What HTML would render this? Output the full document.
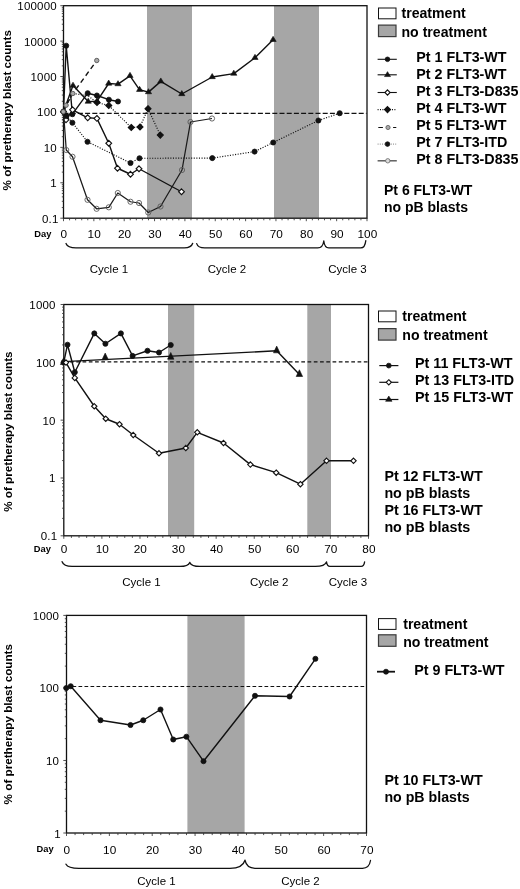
<!DOCTYPE html>
<html lang="en"><head><meta charset="utf-8"><title>Blast counts</title>
<style>html,body{margin:0;padding:0;background:#fff}svg{display:block}text{font-family:'Liberation Sans', sans-serif;fill:#000}</style>
</head><body>
<svg width="520" height="889" viewBox="0 0 520 889">
<rect width="520" height="889" fill="#fff"/>
<g style="mix-blend-mode:multiply">
<rect x="147" y="5.7" width="45" height="212.5" fill="#a6a6a6"/>
<rect x="274" y="5.7" width="45" height="212.5" fill="#a6a6a6"/>
<line x1="63.5" y1="113.3" x2="366.5" y2="113.3" stroke="#111" stroke-width="1.25" stroke-dasharray="5 2.2"/>
<rect x="63.5" y="5.7" width="303.5" height="212.5" fill="none" stroke="#111" stroke-width="1.3"/>
<path d="M60.3 5.7H63.5M61.8 30.46H63.5M61.8 24.22H63.5M61.8 19.79H63.5M61.8 16.36H63.5M61.8 13.56H63.5M61.8 11.19H63.5M61.8 9.13H63.5M61.8 7.32H63.5M60.3 41.12H63.5M61.8 65.87H63.5M61.8 59.64H63.5M61.8 55.21H63.5M61.8 51.78H63.5M61.8 48.97H63.5M61.8 46.6H63.5M61.8 44.55H63.5M61.8 42.74H63.5M60.3 76.53H63.5M61.8 101.29H63.5M61.8 95.05H63.5M61.8 90.63H63.5M61.8 87.19H63.5M61.8 84.39H63.5M61.8 82.02H63.5M61.8 79.97H63.5M61.8 78.15H63.5M60.3 111.95H63.5M61.8 136.71H63.5M61.8 130.47H63.5M61.8 126.04H63.5M61.8 122.61H63.5M61.8 119.81H63.5M61.8 117.44H63.5M61.8 115.38H63.5M61.8 113.57H63.5M60.3 147.37H63.5M61.8 172.12H63.5M61.8 165.89H63.5M61.8 161.46H63.5M61.8 158.03H63.5M61.8 155.22H63.5M61.8 152.85H63.5M61.8 150.8H63.5M61.8 148.99H63.5M60.3 182.78H63.5M61.8 207.54H63.5M61.8 201.3H63.5M61.8 196.88H63.5M61.8 193.44H63.5M61.8 190.64H63.5M61.8 188.27H63.5M61.8 186.22H63.5M61.8 184.4H63.5M60.3 218.2H63.5M63.5 218.2V221.2M69.57 218.2V220.3M75.64 218.2V220.3M81.71 218.2V220.3M87.78 218.2V220.3M93.85 218.2V221.2M99.92 218.2V220.3M105.99 218.2V220.3M112.06 218.2V220.3M118.13 218.2V220.3M124.2 218.2V221.2M130.27 218.2V220.3M136.34 218.2V220.3M142.41 218.2V220.3M148.48 218.2V220.3M154.55 218.2V221.2M160.62 218.2V220.3M166.69 218.2V220.3M172.76 218.2V220.3M178.83 218.2V220.3M184.9 218.2V221.2M190.97 218.2V220.3M197.04 218.2V220.3M203.11 218.2V220.3M209.18 218.2V220.3M215.25 218.2V221.2M221.32 218.2V220.3M227.39 218.2V220.3M233.46 218.2V220.3M239.53 218.2V220.3M245.6 218.2V221.2M251.67 218.2V220.3M257.74 218.2V220.3M263.81 218.2V220.3M269.88 218.2V220.3M275.95 218.2V221.2M282.02 218.2V220.3M288.09 218.2V220.3M294.16 218.2V220.3M300.23 218.2V220.3M306.3 218.2V221.2M312.37 218.2V220.3M318.44 218.2V220.3M324.51 218.2V220.3M330.58 218.2V220.3M336.65 218.2V221.2M342.72 218.2V220.3M348.79 218.2V220.3M354.86 218.2V220.3M360.93 218.2V220.3M367 218.2V221.2" stroke="#333" stroke-width="0.85" fill="none"/>
<text x="56.9" y="10.2" font-size="11.5" text-anchor="end" letter-spacing="0.2">100000</text>
<text x="56.9" y="45.62" font-size="11.5" text-anchor="end" letter-spacing="0.2">10000</text>
<text x="56.9" y="81.03" font-size="11.5" text-anchor="end" letter-spacing="0.2">1000</text>
<text x="56.9" y="116.45" font-size="11.5" text-anchor="end" letter-spacing="0.2">100</text>
<text x="56.9" y="151.87" font-size="11.5" text-anchor="end" letter-spacing="0.2">10</text>
<text x="56.9" y="187.28" font-size="11.5" text-anchor="end" letter-spacing="0.2">1</text>
<text x="58.5" y="222.7" font-size="11.5" text-anchor="end" letter-spacing="0.2">0.1</text>
<text x="63.9" y="237.6" font-size="11.8" text-anchor="middle" letter-spacing="0.1">0</text>
<text x="94.25" y="237.6" font-size="11.8" text-anchor="middle" letter-spacing="0.1">10</text>
<text x="124.6" y="237.6" font-size="11.8" text-anchor="middle" letter-spacing="0.1">20</text>
<text x="154.95" y="237.6" font-size="11.8" text-anchor="middle" letter-spacing="0.1">30</text>
<text x="185.3" y="237.6" font-size="11.8" text-anchor="middle" letter-spacing="0.1">40</text>
<text x="215.65" y="237.6" font-size="11.8" text-anchor="middle" letter-spacing="0.1">50</text>
<text x="246" y="237.6" font-size="11.8" text-anchor="middle" letter-spacing="0.1">60</text>
<text x="276.35" y="237.6" font-size="11.8" text-anchor="middle" letter-spacing="0.1">70</text>
<text x="306.7" y="237.6" font-size="11.8" text-anchor="middle" letter-spacing="0.1">80</text>
<text x="337.05" y="237.6" font-size="11.8" text-anchor="middle" letter-spacing="0.1">90</text>
<text x="367.4" y="237.6" font-size="11.8" text-anchor="middle" letter-spacing="0.1">100</text>
<text x="34.3" y="236.8" font-size="9.3" text-anchor="start" font-weight="bold">Day</text>
<text x="0" y="0" font-size="11.7" text-anchor="middle" font-weight="bold" transform="translate(10.9 110.3) rotate(-90)">% of pretherapy blast counts</text>
<path d="M66 243.5C67.2 246.8 70.5 247.9 76 247.9H184.2C188.88 247.9 191.68 246.75 192.7 243.3M196.7 243.6C197.66 246.82 200.3 247.9 204.7 247.9H317.8C321.1 247.9 323.08 246.18 323.8 241M323.8 241C324.4 246.18 326.05 247.9 328.8 247.9H360.8C363.55 247.9 365.2 246.07 365.8 240.6" stroke="#111" stroke-width="1.3" fill="none" stroke-linecap="round"/>
<text x="109" y="273" font-size="11.5" text-anchor="middle">Cycle 1</text>
<text x="227" y="273" font-size="11.5" text-anchor="middle">Cycle 2</text>
<text x="347.5" y="273" font-size="11.5" text-anchor="middle">Cycle 3</text>
<rect x="378.5" y="8" width="17.5" height="10.8" fill="#fff" stroke="#111" stroke-width="1"/>
<rect x="378.5" y="25.1" width="17.5" height="11.5" fill="#a6a6a6" stroke="#3a3a3a" stroke-width="1.2"/>
<text x="401.5" y="18.3" font-size="14.1" text-anchor="start" font-weight="bold">treatment</text>
<text x="401.5" y="36.9" font-size="14.1" text-anchor="start" font-weight="bold">no treatment</text>
<polyline points="63.5,111.75 66.2,45.7 72.4,114.2 87.7,93.2 96.9,95.5 108.9,99.7 118,101.5" fill="none" stroke="#111" stroke-width="1.4" stroke-linejoin="round"/>
<circle cx="63.5" cy="111.75" r="2.55" fill="#111" stroke="#111" stroke-width="0.8"/>
<circle cx="66.2" cy="45.7" r="2.55" fill="#111" stroke="#111" stroke-width="0.8"/>
<circle cx="72.4" cy="114.2" r="2.55" fill="#111" stroke="#111" stroke-width="0.8"/>
<circle cx="87.7" cy="93.2" r="2.55" fill="#111" stroke="#111" stroke-width="0.8"/>
<circle cx="96.9" cy="95.5" r="2.55" fill="#111" stroke="#111" stroke-width="0.8"/>
<circle cx="108.9" cy="99.7" r="2.55" fill="#111" stroke="#111" stroke-width="0.8"/>
<circle cx="118" cy="101.5" r="2.55" fill="#111" stroke="#111" stroke-width="0.8"/>
<polyline points="63.5,111.75 73,85.6 88.2,101.6 97,101.2 108.7,83.5 118,84.1 130,75.8 139.6,89.8 148.5,92.1 160.8,81.4 181.8,94 212.2,77 233.8,73.6 255,57.8 273.1,39.8" fill="none" stroke="#111" stroke-width="1.4" stroke-linejoin="round"/>
<polygon points="73,82.15 76.1,87.23 69.9,87.23" fill="#111" stroke="#111" stroke-width="0.6"/>
<polygon points="88.2,98.15 91.3,103.23 85.1,103.23" fill="#111" stroke="#111" stroke-width="0.6"/>
<polygon points="97,97.75 100.1,102.83 93.9,102.83" fill="#111" stroke="#111" stroke-width="0.6"/>
<polygon points="108.7,80.05 111.8,85.13 105.6,85.13" fill="#111" stroke="#111" stroke-width="0.6"/>
<polygon points="118,80.65 121.1,85.73 114.9,85.73" fill="#111" stroke="#111" stroke-width="0.6"/>
<polygon points="130,72.35 133.1,77.43 126.9,77.43" fill="#111" stroke="#111" stroke-width="0.6"/>
<polygon points="139.6,86.35 142.7,91.43 136.5,91.43" fill="#111" stroke="#111" stroke-width="0.6"/>
<polygon points="148.5,88.65 151.6,93.73 145.4,93.73" fill="#111" stroke="#111" stroke-width="0.6"/>
<polygon points="160.8,77.95 163.9,83.03 157.7,83.03" fill="#111" stroke="#111" stroke-width="0.6"/>
<polygon points="181.8,90.55 184.9,95.63 178.7,95.63" fill="#111" stroke="#111" stroke-width="0.6"/>
<polygon points="212.2,73.55 215.3,78.63 209.1,78.63" fill="#111" stroke="#111" stroke-width="0.6"/>
<polygon points="233.8,70.15 236.9,75.23 230.7,75.23" fill="#111" stroke="#111" stroke-width="0.6"/>
<polygon points="255,54.35 258.1,59.43 251.9,59.43" fill="#111" stroke="#111" stroke-width="0.6"/>
<polygon points="273.1,36.35 276.2,41.43 270,41.43" fill="#111" stroke="#111" stroke-width="0.6"/>
<polyline points="63.5,111.75 66,119.8 72.6,109.8 87.7,117.8 96.9,118.4 108.75,143.25 117.5,168.25 130.5,174.25 139,168.75 181.5,191.75" fill="none" stroke="#111" stroke-width="1.4" stroke-linejoin="round"/>
<polygon points="63.5,108.85 66.4,111.75 63.5,114.65 60.6,111.75" fill="#fff" stroke="#111" stroke-width="1.1"/>
<polygon points="66,116.9 68.9,119.8 66,122.7 63.1,119.8" fill="#fff" stroke="#111" stroke-width="1.1"/>
<polygon points="72.6,106.9 75.5,109.8 72.6,112.7 69.7,109.8" fill="#fff" stroke="#111" stroke-width="1.1"/>
<polygon points="87.7,114.9 90.6,117.8 87.7,120.7 84.8,117.8" fill="#fff" stroke="#111" stroke-width="1.1"/>
<polygon points="96.9,115.5 99.8,118.4 96.9,121.3 94,118.4" fill="#fff" stroke="#111" stroke-width="1.1"/>
<polygon points="108.75,140.35 111.65,143.25 108.75,146.15 105.85,143.25" fill="#fff" stroke="#111" stroke-width="1.1"/>
<polygon points="117.5,165.35 120.4,168.25 117.5,171.15 114.6,168.25" fill="#fff" stroke="#111" stroke-width="1.1"/>
<polygon points="130.5,171.35 133.4,174.25 130.5,177.15 127.6,174.25" fill="#fff" stroke="#111" stroke-width="1.1"/>
<polygon points="139,165.85 141.9,168.75 139,171.65 136.1,168.75" fill="#fff" stroke="#111" stroke-width="1.1"/>
<polygon points="181.5,188.85 184.4,191.75 181.5,194.65 178.6,191.75" fill="#fff" stroke="#111" stroke-width="1.1"/>
<polyline points="63.5,111.75 72.8,93.5 87.5,95.5 97,102.5 108.75,105.5 131.25,127.5 140,127 148,108.75 160.3,135.1" fill="none" stroke="#111" stroke-width="1.15" stroke-linejoin="round" stroke-dasharray="1.1 1.5"/>
<polygon points="97,99.5 100,102.5 97,105.5 94,102.5" fill="#111" stroke="#111" stroke-width="1.1"/>
<polygon points="108.75,102.5 111.75,105.5 108.75,108.5 105.75,105.5" fill="#111" stroke="#111" stroke-width="1.1"/>
<polygon points="131.25,124.5 134.25,127.5 131.25,130.5 128.25,127.5" fill="#111" stroke="#111" stroke-width="1.1"/>
<polygon points="140,124 143,127 140,130 137,127" fill="#111" stroke="#111" stroke-width="1.1"/>
<polygon points="148,105.75 151,108.75 148,111.75 145,108.75" fill="#111" stroke="#111" stroke-width="1.1"/>
<polygon points="160.3,132.1 163.3,135.1 160.3,138.1 157.3,135.1" fill="#111" stroke="#111" stroke-width="1.1"/>
<polyline points="63.5,111.75 66.1,105.2 72.8,93.5 96.75,60.5" fill="none" stroke="#111" stroke-width="1.4" stroke-linejoin="round" stroke-dasharray="5 3.5"/>
<circle cx="63.5" cy="111.75" r="2.2" fill="#aaa" stroke="#555" stroke-width="0.9"/>
<circle cx="66.1" cy="105.2" r="2.2" fill="#aaa" stroke="#555" stroke-width="0.9"/>
<circle cx="72.8" cy="93.5" r="2.2" fill="#aaa" stroke="#555" stroke-width="0.9"/>
<circle cx="96.75" cy="60.5" r="2.2" fill="#aaa" stroke="#555" stroke-width="0.9"/>
<polyline points="63.5,111.75 66.5,116 72.4,122.7 87.5,141.75 130.5,163 139.5,158.25 212.3,158.1 254.6,151.6 273.2,142.5 318.4,120.5 339.7,113.2" fill="none" stroke="#111" stroke-width="1.15" stroke-linejoin="round" stroke-dasharray="1.1 1.5"/>
<circle cx="63.5" cy="111.75" r="2.55" fill="#111" stroke="#111" stroke-width="0.8"/>
<circle cx="66.5" cy="116" r="2.55" fill="#111" stroke="#111" stroke-width="0.8"/>
<circle cx="72.4" cy="122.7" r="2.55" fill="#111" stroke="#111" stroke-width="0.8"/>
<circle cx="87.5" cy="141.75" r="2.55" fill="#111" stroke="#111" stroke-width="0.8"/>
<circle cx="130.5" cy="163" r="2.55" fill="#111" stroke="#111" stroke-width="0.8"/>
<circle cx="139.5" cy="158.25" r="2.55" fill="#111" stroke="#111" stroke-width="0.8"/>
<circle cx="212.3" cy="158.1" r="2.55" fill="#111" stroke="#111" stroke-width="0.8"/>
<circle cx="254.6" cy="151.6" r="2.55" fill="#111" stroke="#111" stroke-width="0.8"/>
<circle cx="273.2" cy="142.5" r="2.55" fill="#111" stroke="#111" stroke-width="0.8"/>
<circle cx="318.4" cy="120.5" r="2.55" fill="#111" stroke="#111" stroke-width="0.8"/>
<circle cx="339.7" cy="113.2" r="2.55" fill="#111" stroke="#111" stroke-width="0.8"/>
<polyline points="63.5,111.75 66.25,150 72.5,156.75 87.5,199.8 96.6,208.8 108.8,207.3 117.8,193 130.5,201.75 139,203 148.25,212.5 160.5,206.5 182,170 190.5,122 212,118.5" fill="none" stroke="#1a1a1a" stroke-width="1.25" stroke-linejoin="round"/>
<circle cx="66.25" cy="150" r="2.6" fill="none" stroke="#5a5a5a" stroke-width="0.9"/>
<circle cx="72.5" cy="156.75" r="2.6" fill="none" stroke="#5a5a5a" stroke-width="0.9"/>
<circle cx="87.5" cy="199.8" r="2.6" fill="none" stroke="#5a5a5a" stroke-width="0.9"/>
<circle cx="96.6" cy="208.8" r="2.6" fill="none" stroke="#5a5a5a" stroke-width="0.9"/>
<circle cx="108.8" cy="207.3" r="2.6" fill="none" stroke="#5a5a5a" stroke-width="0.9"/>
<circle cx="117.8" cy="193" r="2.6" fill="none" stroke="#5a5a5a" stroke-width="0.9"/>
<circle cx="130.5" cy="201.75" r="2.6" fill="none" stroke="#5a5a5a" stroke-width="0.9"/>
<circle cx="139" cy="203" r="2.6" fill="none" stroke="#5a5a5a" stroke-width="0.9"/>
<circle cx="148.25" cy="212.5" r="2.6" fill="none" stroke="#5a5a5a" stroke-width="0.9"/>
<circle cx="160.5" cy="206.5" r="2.6" fill="none" stroke="#5a5a5a" stroke-width="0.9"/>
<circle cx="182" cy="170" r="2.6" fill="none" stroke="#5a5a5a" stroke-width="0.9"/>
<circle cx="190.5" cy="122" r="2.6" fill="none" stroke="#5a5a5a" stroke-width="0.9"/>
<circle cx="212" cy="118.5" r="2.6" fill="none" stroke="#5a5a5a" stroke-width="0.9"/>
<circle cx="63.3" cy="111.7" r="2.2" fill="#aaa" stroke="#555" stroke-width="0.9"/>
<line x1="377.6" y1="59.3" x2="396.8" y2="59.3" stroke="#111" stroke-width="1.1"/>
<circle cx="387.5" cy="59.3" r="2.3" fill="#111" stroke="#111" stroke-width="0.8"/>
<text x="416.3" y="62" font-size="14.3" text-anchor="start" font-weight="bold">Pt 1 FLT3-WT</text>
<line x1="377.6" y1="74.8" x2="396.8" y2="74.8" stroke="#111" stroke-width="1.1"/>
<polygon points="387.5,71.64 390.5,76.56 384.5,76.56" fill="#111" stroke="#111" stroke-width="0.6"/>
<text x="416.3" y="78.95" font-size="14.3" text-anchor="start" font-weight="bold">Pt 2 FLT3-WT</text>
<line x1="377.6" y1="92.5" x2="396.8" y2="92.5" stroke="#111" stroke-width="1.1"/>
<polygon points="387.5,89.9 390.1,92.5 387.5,95.1 384.9,92.5" fill="#fff" stroke="#111" stroke-width="1.1"/>
<text x="416.3" y="95.9" font-size="14.3" text-anchor="start" font-weight="bold">Pt 3 FLT3-D835</text>
<line x1="377.6" y1="109.6" x2="396.8" y2="109.6" stroke="#111" stroke-width="1.1" stroke-dasharray="1 1.4"/>
<polygon points="387.5,106.6 390.5,109.6 387.5,112.6 384.5,109.6" fill="#111" stroke="#111" stroke-width="1.1"/>
<text x="416.3" y="112.85" font-size="14.3" text-anchor="start" font-weight="bold">Pt 4 FLT3-WT</text>
<line x1="378.3" y1="127.5" x2="397.8" y2="127.5" stroke="#111" stroke-width="1.1" stroke-dasharray="4.6 10.2 3.2 20"/>
<circle cx="388" cy="127.5" r="2.1" fill="#aaa" stroke="#555" stroke-width="0.8"/>
<text x="416.3" y="129.8" font-size="14.3" text-anchor="start" font-weight="bold">Pt 5 FLT3-WT</text>
<line x1="377.6" y1="144.1" x2="396.8" y2="144.1" stroke="#777" stroke-width="0.9" stroke-dasharray="1 1.2"/>
<circle cx="387.5" cy="144.1" r="2.3" fill="#111" stroke="#111" stroke-width="0.8"/>
<text x="416.3" y="146.75" font-size="14.3" text-anchor="start" font-weight="bold">Pt 7 FLT3-ITD</text>
<line x1="377.6" y1="160.8" x2="396.8" y2="160.8" stroke="#555" stroke-width="1.4"/>
<circle cx="387.8" cy="160.8" r="2.2" fill="#ddd" stroke="#666" stroke-width="0.8"/>
<text x="416.3" y="163.7" font-size="14.3" text-anchor="start" font-weight="bold">Pt 8 FLT3-D835</text>
<text x="384" y="195" font-size="14" text-anchor="start" font-weight="bold">Pt 6 FLT3-WT</text>
<text x="384" y="212.3" font-size="14" text-anchor="start" font-weight="bold">no pB blasts</text>
<rect x="168" y="304.5" width="26.2" height="231.3" fill="#a6a6a6"/>
<rect x="307.3" y="304.5" width="23.7" height="231.3" fill="#a6a6a6"/>
<line x1="63.8" y1="361.9" x2="368" y2="361.9" stroke="#111" stroke-width="1.2" stroke-dasharray="3.7 2.55"/>
<rect x="63.8" y="304.5" width="304.7" height="231.3" fill="none" stroke="#111" stroke-width="1.3"/>
<path d="M60.6 304.5H63.8M62.1 344.92H63.8M62.1 334.74H63.8M62.1 327.51H63.8M62.1 321.91H63.8M62.1 317.33H63.8M62.1 313.46H63.8M62.1 310.1H63.8M62.1 307.15H63.8M60.6 362.32H63.8M62.1 402.74H63.8M62.1 392.56H63.8M62.1 385.34H63.8M62.1 379.73H63.8M62.1 375.15H63.8M62.1 371.28H63.8M62.1 367.93H63.8M62.1 364.97H63.8M60.6 420.15H63.8M62.1 460.57H63.8M62.1 450.39H63.8M62.1 443.16H63.8M62.1 437.56H63.8M62.1 432.98H63.8M62.1 429.11H63.8M62.1 425.75H63.8M62.1 422.8H63.8M60.6 477.97H63.8M62.1 518.39H63.8M62.1 508.21H63.8M62.1 500.99H63.8M62.1 495.38H63.8M62.1 490.8H63.8M62.1 486.93H63.8M62.1 483.58H63.8M62.1 480.62H63.8M60.6 535.8H63.8M63.8 535.8V538.8M71.42 535.8V537.9M79.03 535.8V537.9M86.65 535.8V537.9M94.27 535.8V537.9M101.89 535.8V538.8M109.5 535.8V537.9M117.12 535.8V537.9M124.74 535.8V537.9M132.36 535.8V537.9M139.97 535.8V538.8M147.59 535.8V537.9M155.21 535.8V537.9M162.83 535.8V537.9M170.44 535.8V537.9M178.06 535.8V538.8M185.68 535.8V537.9M193.3 535.8V537.9M200.92 535.8V537.9M208.53 535.8V537.9M216.15 535.8V538.8M223.77 535.8V537.9M231.38 535.8V537.9M239 535.8V537.9M246.62 535.8V537.9M254.24 535.8V538.8M261.86 535.8V537.9M269.47 535.8V537.9M277.09 535.8V537.9M284.71 535.8V537.9M292.32 535.8V538.8M299.94 535.8V537.9M307.56 535.8V537.9M315.18 535.8V537.9M322.8 535.8V537.9M330.41 535.8V538.8M338.03 535.8V537.9M345.65 535.8V537.9M353.26 535.8V537.9M360.88 535.8V537.9M368.5 535.8V538.8" stroke="#333" stroke-width="0.85" fill="none"/>
<text x="55.7" y="309" font-size="11.5" text-anchor="end" letter-spacing="0.2">1000</text>
<text x="55.7" y="366.82" font-size="11.5" text-anchor="end" letter-spacing="0.2">100</text>
<text x="55.7" y="424.65" font-size="11.5" text-anchor="end" letter-spacing="0.2">10</text>
<text x="55.7" y="482.47" font-size="11.5" text-anchor="end" letter-spacing="0.2">1</text>
<text x="57.3" y="540.3" font-size="11.5" text-anchor="end" letter-spacing="0.2">0.1</text>
<text x="64.2" y="552.6" font-size="11.8" text-anchor="middle" letter-spacing="0.1">0</text>
<text x="102.29" y="552.6" font-size="11.8" text-anchor="middle" letter-spacing="0.1">10</text>
<text x="140.38" y="552.6" font-size="11.8" text-anchor="middle" letter-spacing="0.1">20</text>
<text x="178.46" y="552.6" font-size="11.8" text-anchor="middle" letter-spacing="0.1">30</text>
<text x="216.55" y="552.6" font-size="11.8" text-anchor="middle" letter-spacing="0.1">40</text>
<text x="254.64" y="552.6" font-size="11.8" text-anchor="middle" letter-spacing="0.1">50</text>
<text x="292.72" y="552.6" font-size="11.8" text-anchor="middle" letter-spacing="0.1">60</text>
<text x="330.81" y="552.6" font-size="11.8" text-anchor="middle" letter-spacing="0.1">70</text>
<text x="368.9" y="552.6" font-size="11.8" text-anchor="middle" letter-spacing="0.1">80</text>
<text x="33.8" y="552.3" font-size="9.3" text-anchor="start" font-weight="bold">Day</text>
<text x="0" y="0" font-size="11.7" text-anchor="middle" font-weight="bold" transform="translate(11.8 431.6) rotate(-90)">% of pretherapy blast counts</text>
<path d="M62.1 561.7C63.3 565.23 66.6 566.4 72.1 566.4H179.8C185.3 566.4 188.6 565.4 189.8 562.4M189.8 562.4C191 565.4 194.3 566.4 199.8 566.4H315.5C321.55 566.4 325.18 565.27 326.5 561.9M326.5 561.9C326.92 565.27 328.07 566.4 330 566.4H361.1C363.03 566.4 364.18 565.27 364.6 561.9" stroke="#111" stroke-width="1.3" fill="none" stroke-linecap="round"/>
<text x="141.5" y="586" font-size="11.5" text-anchor="middle">Cycle 1</text>
<text x="269.2" y="586" font-size="11.5" text-anchor="middle">Cycle 2</text>
<text x="348" y="586" font-size="11.5" text-anchor="middle">Cycle 3</text>
<rect x="378.5" y="311" width="17.5" height="10.8" fill="#fff" stroke="#111" stroke-width="1"/>
<rect x="378.5" y="328.6" width="17.5" height="11.5" fill="#a6a6a6" stroke="#3a3a3a" stroke-width="1.2"/>
<text x="402.3" y="321.3" font-size="14.1" text-anchor="start" font-weight="bold">treatment</text>
<text x="402.3" y="340.4" font-size="14.1" text-anchor="start" font-weight="bold">no treatment</text>
<polyline points="63.8,362.2 67.5,344.7 74.8,372.2 94.3,333.4 105.4,343.75 120.9,333.4 132.6,355.9 147.5,350.75 159,352.5 170.75,345" fill="none" stroke="#111" stroke-width="1.4" stroke-linejoin="round"/>
<circle cx="63.8" cy="362.2" r="2.55" fill="#111" stroke="#111" stroke-width="0.8"/>
<circle cx="67.5" cy="344.7" r="2.55" fill="#111" stroke="#111" stroke-width="0.8"/>
<circle cx="74.8" cy="372.2" r="2.55" fill="#111" stroke="#111" stroke-width="0.8"/>
<circle cx="94.3" cy="333.4" r="2.55" fill="#111" stroke="#111" stroke-width="0.8"/>
<circle cx="105.4" cy="343.75" r="2.55" fill="#111" stroke="#111" stroke-width="0.8"/>
<circle cx="120.9" cy="333.4" r="2.55" fill="#111" stroke="#111" stroke-width="0.8"/>
<circle cx="132.6" cy="355.9" r="2.55" fill="#111" stroke="#111" stroke-width="0.8"/>
<circle cx="147.5" cy="350.75" r="2.55" fill="#111" stroke="#111" stroke-width="0.8"/>
<circle cx="159" cy="352.5" r="2.55" fill="#111" stroke="#111" stroke-width="0.8"/>
<circle cx="170.75" cy="345" r="2.55" fill="#111" stroke="#111" stroke-width="0.8"/>
<polyline points="63.8,361.6 276.7,350.8 299.2,374.3" fill="none" stroke="#111" stroke-width="1.4" stroke-linejoin="round"/>
<polygon points="63.6,357.78 66.8,364.5 60.4,364.5" fill="#111" stroke="#111" stroke-width="0.6"/>
<polygon points="105.2,353.08 108.4,359.8 102,359.8" fill="#111" stroke="#111" stroke-width="0.6"/>
<polygon points="170.75,352.48 173.95,359.2 167.55,359.2" fill="#111" stroke="#111" stroke-width="0.6"/>
<polygon points="276.7,346.08 279.9,352.8 273.5,352.8" fill="#111" stroke="#111" stroke-width="0.6"/>
<polygon points="299.4,369.78 302.6,376.5 296.2,376.5" fill="#111" stroke="#111" stroke-width="0.6"/>
<polyline points="66,362.6 74.8,377.9 94.25,406.25 105.75,418.75 119.5,424.25 133.25,435 159,453.25 185.8,448 197.3,432.3 223.5,443 250.4,464.6 276.2,472.7 300.4,484.2 326.5,460.8 353.5,460.8" fill="none" stroke="#111" stroke-width="1.4" stroke-linejoin="round"/>
<polygon points="66,359.9 68.7,362.6 66,365.3 63.3,362.6" fill="#fff" stroke="#111" stroke-width="1.1"/>
<polygon points="74.8,375.2 77.5,377.9 74.8,380.6 72.1,377.9" fill="#fff" stroke="#111" stroke-width="1.1"/>
<polygon points="94.25,403.55 96.95,406.25 94.25,408.95 91.55,406.25" fill="#fff" stroke="#111" stroke-width="1.1"/>
<polygon points="105.75,416.05 108.45,418.75 105.75,421.45 103.05,418.75" fill="#fff" stroke="#111" stroke-width="1.1"/>
<polygon points="119.5,421.55 122.2,424.25 119.5,426.95 116.8,424.25" fill="#fff" stroke="#111" stroke-width="1.1"/>
<polygon points="133.25,432.3 135.95,435 133.25,437.7 130.55,435" fill="#fff" stroke="#111" stroke-width="1.1"/>
<polygon points="159,450.55 161.7,453.25 159,455.95 156.3,453.25" fill="#fff" stroke="#111" stroke-width="1.1"/>
<polygon points="185.8,445.3 188.5,448 185.8,450.7 183.1,448" fill="#fff" stroke="#111" stroke-width="1.1"/>
<polygon points="197.3,429.6 200,432.3 197.3,435 194.6,432.3" fill="#fff" stroke="#111" stroke-width="1.1"/>
<polygon points="223.5,440.3 226.2,443 223.5,445.7 220.8,443" fill="#fff" stroke="#111" stroke-width="1.1"/>
<polygon points="250.4,461.9 253.1,464.6 250.4,467.3 247.7,464.6" fill="#fff" stroke="#111" stroke-width="1.1"/>
<polygon points="276.2,470 278.9,472.7 276.2,475.4 273.5,472.7" fill="#fff" stroke="#111" stroke-width="1.1"/>
<polygon points="300.4,481.5 303.1,484.2 300.4,486.9 297.7,484.2" fill="#fff" stroke="#111" stroke-width="1.1"/>
<polygon points="326.5,458.1 329.2,460.8 326.5,463.5 323.8,460.8" fill="#fff" stroke="#111" stroke-width="1.1"/>
<polygon points="353.5,458.1 356.2,460.8 353.5,463.5 350.8,460.8" fill="#fff" stroke="#111" stroke-width="1.1"/>
<line x1="379.3" y1="365.6" x2="398.4" y2="365.6" stroke="#111" stroke-width="1.2"/>
<circle cx="388.8" cy="365.6" r="2.4" fill="#111" stroke="#111" stroke-width="0.8"/>
<text x="415" y="368.2" font-size="14.3" text-anchor="start" font-weight="bold">Pt 11 FLT3-WT</text>
<line x1="379.3" y1="382.3" x2="398.4" y2="382.3" stroke="#111" stroke-width="1.2"/>
<polygon points="388.8,379.7 391.4,382.3 388.8,384.9 386.2,382.3" fill="#fff" stroke="#111" stroke-width="1.1"/>
<text x="415" y="384.9" font-size="14.3" text-anchor="start" font-weight="bold">Pt 13 FLT3-ITD</text>
<line x1="379.3" y1="399.5" x2="398.4" y2="399.5" stroke="#111" stroke-width="1.2"/>
<polygon points="388.8,396.06 392,401.3 385.6,401.3" fill="#111" stroke="#111" stroke-width="0.6"/>
<text x="415" y="402.1" font-size="14.3" text-anchor="start" font-weight="bold">Pt 15 FLT3-WT</text>
<text x="384.4" y="480.7" font-size="14.3" text-anchor="start" font-weight="bold">Pt 12 FLT3-WT</text>
<text x="384.4" y="497.8" font-size="14.3" text-anchor="start" font-weight="bold">no pB blasts</text>
<text x="384.4" y="514.8" font-size="14.3" text-anchor="start" font-weight="bold">Pt 16 FLT3-WT</text>
<text x="384.4" y="532" font-size="14.3" text-anchor="start" font-weight="bold">no pB blasts</text>
<rect x="187.4" y="615.4" width="57.2" height="217.6" fill="#a6a6a6"/>
<line x1="66.5" y1="686.5" x2="366" y2="686.5" stroke="#111" stroke-width="1.2" stroke-dasharray="3.7 2.3"/>
<rect x="66.5" y="615.4" width="300" height="217.6" fill="none" stroke="#111" stroke-width="1.3"/>
<path d="M63.3 615.4H66.5M64.8 666.1H66.5M64.8 653.33H66.5M64.8 644.26H66.5M64.8 637.23H66.5M64.8 631.49H66.5M64.8 626.64H66.5M64.8 622.43H66.5M64.8 618.72H66.5M63.3 687.93H66.5M64.8 738.63H66.5M64.8 725.86H66.5M64.8 716.8H66.5M64.8 709.77H66.5M64.8 704.02H66.5M64.8 699.17H66.5M64.8 694.96H66.5M64.8 691.25H66.5M63.3 760.47H66.5M64.8 811.17H66.5M64.8 798.39H66.5M64.8 789.33H66.5M64.8 782.3H66.5M64.8 776.56H66.5M64.8 771.7H66.5M64.8 767.5H66.5M64.8 763.79H66.5M63.3 833H66.5M66.5 833V836M75.07 833V835.1M83.64 833V835.1M92.21 833V835.1M100.79 833V835.1M109.36 833V836M117.93 833V835.1M126.5 833V835.1M135.07 833V835.1M143.64 833V835.1M152.21 833V836M160.79 833V835.1M169.36 833V835.1M177.93 833V835.1M186.5 833V835.1M195.07 833V836M203.64 833V835.1M212.21 833V835.1M220.79 833V835.1M229.36 833V835.1M237.93 833V836M246.5 833V835.1M255.07 833V835.1M263.64 833V835.1M272.21 833V835.1M280.79 833V836M289.36 833V835.1M297.93 833V835.1M306.5 833V835.1M315.07 833V835.1M323.64 833V836M332.21 833V835.1M340.79 833V835.1M349.36 833V835.1M357.93 833V835.1M366.5 833V836" stroke="#333" stroke-width="0.85" fill="none"/>
<text x="59.2" y="619.9" font-size="11.5" text-anchor="end" letter-spacing="0.2">1000</text>
<text x="59.2" y="692.43" font-size="11.5" text-anchor="end" letter-spacing="0.2">100</text>
<text x="59.2" y="764.97" font-size="11.5" text-anchor="end" letter-spacing="0.2">10</text>
<text x="60.8" y="837.5" font-size="11.5" text-anchor="end" letter-spacing="0.2">1</text>
<text x="66.9" y="853.9" font-size="11.8" text-anchor="middle" letter-spacing="0.1">0</text>
<text x="109.76" y="853.9" font-size="11.8" text-anchor="middle" letter-spacing="0.1">10</text>
<text x="152.61" y="853.9" font-size="11.8" text-anchor="middle" letter-spacing="0.1">20</text>
<text x="195.47" y="853.9" font-size="11.8" text-anchor="middle" letter-spacing="0.1">30</text>
<text x="238.33" y="853.9" font-size="11.8" text-anchor="middle" letter-spacing="0.1">40</text>
<text x="281.19" y="853.9" font-size="11.8" text-anchor="middle" letter-spacing="0.1">50</text>
<text x="324.04" y="853.9" font-size="11.8" text-anchor="middle" letter-spacing="0.1">60</text>
<text x="366.9" y="853.9" font-size="11.8" text-anchor="middle" letter-spacing="0.1">70</text>
<text x="36.6" y="851.7" font-size="9.3" text-anchor="start" font-weight="bold">Day</text>
<text x="0" y="0" font-size="11.7" text-anchor="middle" font-weight="bold" transform="translate(11.8 724.2) rotate(-90)">% of pretherapy blast counts</text>
<path d="M66 864.2C67.56 867.27 71.85 868.3 79 868.3H230C238.25 868.3 243.2 866.27 245 860.2M245 860.2C246.2 866.27 249.5 868.3 255 868.3H362.5C366.9 868.3 369.54 866.35 370.5 860.5" stroke="#111" stroke-width="1.3" fill="none" stroke-linecap="round"/>
<text x="156.5" y="885" font-size="11.5" text-anchor="middle">Cycle 1</text>
<text x="300.5" y="885" font-size="11.5" text-anchor="middle">Cycle 2</text>
<rect x="378.5" y="618.6" width="17.5" height="10.8" fill="#fff" stroke="#111" stroke-width="1"/>
<rect x="378.5" y="634.8" width="17.5" height="11.5" fill="#a6a6a6" stroke="#3a3a3a" stroke-width="1.2"/>
<text x="403.2" y="628.9" font-size="14.1" text-anchor="start" font-weight="bold">treatment</text>
<text x="403.2" y="646.6" font-size="14.1" text-anchor="start" font-weight="bold">no treatment</text>
<polyline points="66.25,688 70.75,686.25 100.5,720.25 130.5,725 143.25,720.25 160.5,709.5 173.25,739.5 186.4,736.7 203.5,761.2 255,695.8 289.6,696.5 315.4,658.8" fill="none" stroke="#111" stroke-width="1.4" stroke-linejoin="round"/>
<circle cx="66.25" cy="688" r="2.55" fill="#111" stroke="#111" stroke-width="0.8"/>
<circle cx="70.75" cy="686.25" r="2.55" fill="#111" stroke="#111" stroke-width="0.8"/>
<circle cx="100.5" cy="720.25" r="2.55" fill="#111" stroke="#111" stroke-width="0.8"/>
<circle cx="130.5" cy="725" r="2.55" fill="#111" stroke="#111" stroke-width="0.8"/>
<circle cx="143.25" cy="720.25" r="2.55" fill="#111" stroke="#111" stroke-width="0.8"/>
<circle cx="160.5" cy="709.5" r="2.55" fill="#111" stroke="#111" stroke-width="0.8"/>
<circle cx="173.25" cy="739.5" r="2.55" fill="#111" stroke="#111" stroke-width="0.8"/>
<circle cx="186.4" cy="736.7" r="2.55" fill="#111" stroke="#111" stroke-width="0.8"/>
<circle cx="203.5" cy="761.2" r="2.55" fill="#111" stroke="#111" stroke-width="0.8"/>
<circle cx="255" cy="695.8" r="2.55" fill="#111" stroke="#111" stroke-width="0.8"/>
<circle cx="289.6" cy="696.5" r="2.55" fill="#111" stroke="#111" stroke-width="0.8"/>
<circle cx="315.4" cy="658.8" r="2.55" fill="#111" stroke="#111" stroke-width="0.8"/>
<line x1="377" y1="671.7" x2="395" y2="671.7" stroke="#111" stroke-width="1.8"/>
<circle cx="386" cy="671.7" r="2.5" fill="#111" stroke="#111" stroke-width="0.8"/>
<text x="414.2" y="674.7" font-size="14.3" text-anchor="start" font-weight="bold">Pt 9 FLT3-WT</text>
<text x="384.4" y="784.7" font-size="14.3" text-anchor="start" font-weight="bold">Pt 10 FLT3-WT</text>
<text x="384.4" y="802" font-size="14.2" text-anchor="start" font-weight="bold">no pB blasts</text>
</g></svg></body></html>
